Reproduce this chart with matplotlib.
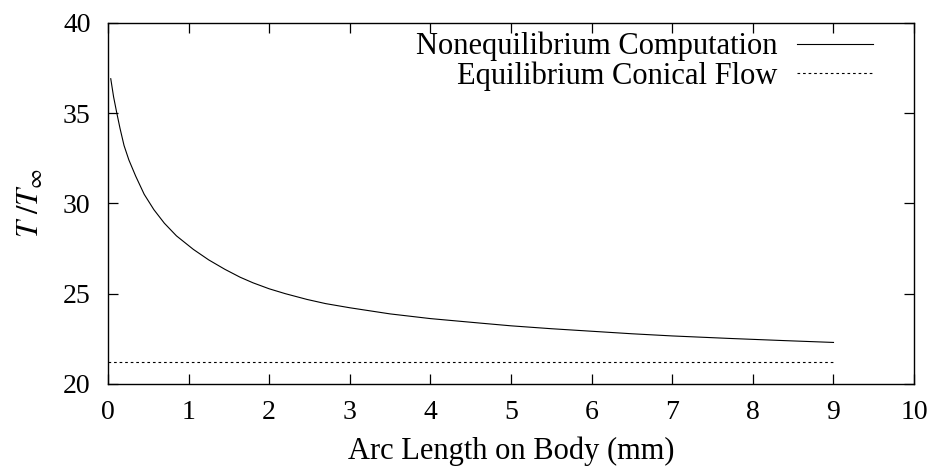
import matplotlib
matplotlib.use("Agg")
import matplotlib.pyplot as plt

# curve
arc_mm = [0.035, 0.07, 0.11, 0.15, 0.20, 0.26, 0.345, 0.45, 0.57, 0.70, 0.85,
          1.06, 1.25, 1.45, 1.64, 1.8, 2.0, 2.2, 2.47, 2.7, 3.0, 3.5, 4.0,
          4.62, 5.0, 5.5, 6.0, 6.5, 7.0, 7.72, 8.4, 9.0]
t_noneq = [36.9, 35.9, 35.0, 34.15, 33.2, 32.4, 31.5, 30.5, 29.65, 28.9, 28.2,
           27.45, 26.87, 26.35, 25.91, 25.6, 25.27, 25.0, 24.68, 24.45, 24.22, 23.88, 23.62,
           23.37, 23.22, 23.06, 22.92, 22.78, 22.66, 22.52, 22.4, 22.3]

eq_x = [0.0, 9.0]
eq_t = [21.2, 21.2]

x_ticks = list(range(0, 11))
y_ticks = [20, 25, 30, 35, 40]

plt.rcParams["font.family"] = ["Liberation Serif", "DejaVu Serif"]
plt.rcParams["mathtext.fontset"] = "stix"

fig = plt.figure(figsize=(9.32, 4.70), dpi=100)
ax = fig.add_axes([0.1158, 0.183, 0.865, 0.7687])

ax.plot(arc_mm, t_noneq, color="black", lw=0.8, label="Nonequilibrium Computation")
ax.plot(eq_x, eq_t, color="black", lw=0.8, linestyle=(0, (2.4, 2.6)),
        label="Equilibrium Conical Flow")

ax.set_xlim(0, 10)
ax.set_ylim(20, 40)
ax.set_xticks(x_ticks)
ax.set_yticks(y_ticks)
ax.tick_params(direction="in", top=True, right=True, length=7, width=0.9,
               labelsize=20)
ax.tick_params(axis="x", pad=11.5)
ax.tick_params(axis="y", pad=12.5)
for s in ax.spines.values():
    s.set_linewidth(1.0)

ax.set_xlabel("Arc Length on Body (mm)", fontsize=22, labelpad=8)
ax.set_ylabel(r"$T\ /T_{\infty}$", fontsize=22, labelpad=12)

# gnuplot style key: text right-aligned, sample on the right
leg = ax.legend(loc="upper right", bbox_to_anchor=(0.949, 0.975), frameon=False,
                markerfirst=False, fontsize=22, handlelength=2.5,
                handletextpad=0.62, labelspacing=0.0, borderaxespad=0,
                borderpad=0)
for col in leg._legend_handle_box.get_children():
    col.align = "right"

fig.savefig("out.png", dpi=100)
